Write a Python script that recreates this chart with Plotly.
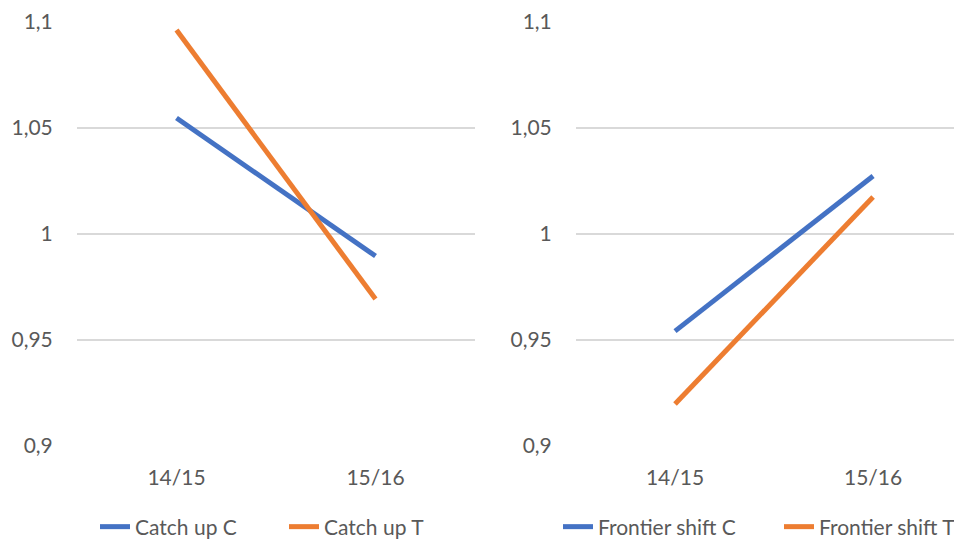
import plotly.graph_objects as go

periods = ["14/15", "15/16"]
catch_up_c = [1.0547, 0.9896]
catch_up_t = [1.0962, 0.9693]
frontier_c = [0.9542, 1.0274]
frontier_t = [0.9198, 1.0175]
ytick_vals = [0.9, 0.95, 1.0, 1.05, 1.1]
ytick_text = ["0,9", "0,95", "1", "1,05", "1,1"]

BLUE = "#4472C4"
ORANGE = "#ED7D31"
FONT = "Lato"
GREY = "#595959"
FS = 21

fig = go.Figure()
fig.add_trace(go.Scatter(x=periods, y=catch_up_c, mode="lines", name="Catch up C",
                         line=dict(color=BLUE, width=5), xaxis="x", yaxis="y", legend="legend"))
fig.add_trace(go.Scatter(x=periods, y=catch_up_t, mode="lines", name="Catch up T",
                         line=dict(color=ORANGE, width=5), xaxis="x", yaxis="y", legend="legend"))
fig.add_trace(go.Scatter(x=periods, y=frontier_c, mode="lines", name="Frontier shift C",
                         line=dict(color=BLUE, width=5), xaxis="x2", yaxis="y2", legend="legend2"))
fig.add_trace(go.Scatter(x=periods, y=frontier_t, mode="lines", name="Frontier shift T",
                         line=dict(color=ORANGE, width=5), xaxis="x2", yaxis="y2", legend="legend2"))

OFF = 8  # page body margin
W, H = 962 - OFF, 540 - OFF

def xpx(p):
    return (p - OFF) / W

def ypx(p):
    return 1 - (p - OFF) / H

xcommon = dict(type="category", showgrid=False, zeroline=False, showline=False,
               ticks="outside", ticklen=13, tickcolor="rgba(0,0,0,0)", automargin=False,
               tickfont=dict(family=FONT, size=FS, color=GREY), fixedrange=True)
ycommon = dict(range=[0.9, 1.1], tickvals=ytick_vals, ticktext=ytick_text,
               domain=[ypx(446), ypx(22)], automargin=False,
               showgrid=True, gridcolor="#D9D9D9", gridwidth=1.5, zeroline=False,
               showline=False, ticks="outside", ticklen=19, tickcolor="rgba(0,0,0,0)",
               tickfont=dict(family=FONT, size=FS, color=GREY))

legcommon = dict(orientation="h", y=ypx(527), yanchor="middle", entrywidthmode="pixels",
                 font=dict(family=FONT, size=FS, color=GREY), bgcolor="rgba(0,0,0,0)")

fig.update_layout(
    width=W, height=H,
    margin=dict(l=0, r=0, t=0, b=0, autoexpand=False),
    paper_bgcolor="white", plot_bgcolor="white",
    font=dict(family=FONT, size=FS, color=GREY),
    xaxis=dict(domain=[xpx(77), xpx(475)], range=[-0.5, 1.5], anchor="y", **xcommon),
    yaxis=dict(anchor="x", **ycommon),
    xaxis2=dict(domain=[xpx(576), 1.0], range=[-0.5, 1.449], anchor="y2", **xcommon),
    yaxis2=dict(anchor="x2", **ycommon),
    legend=dict(x=xpx(95), xanchor="left", entrywidth=144, **legcommon),
    legend2=dict(x=xpx(558), xanchor="left", entrywidth=176, **legcommon),
    showlegend=True,
)

fig.write_html("out.html")
